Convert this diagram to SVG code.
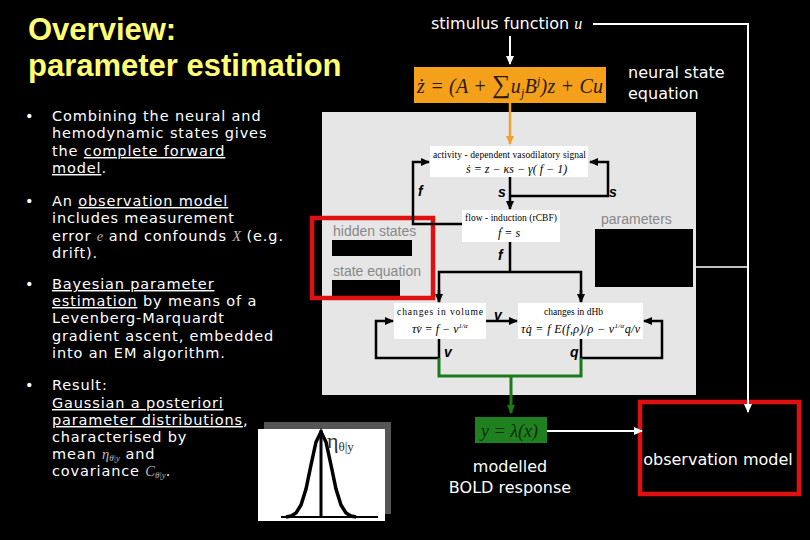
<svg xmlns="http://www.w3.org/2000/svg" width="810" height="540" viewBox="0 0 810 540">
<defs>
<style>
.title{font-family:"Liberation Sans",Arial,sans-serif;font-weight:bold;font-size:31px;fill:#ffff73}
.bul{font-family:"DejaVu Sans",sans-serif;font-size:14.5px;letter-spacing:0.85px;fill:#fff}
.u{text-decoration:underline}
.wt{font-family:"DejaVu Sans",sans-serif;font-size:16px;fill:#fff}
.math{font-family:"Liberation Serif","Times New Roman",serif;font-style:italic;letter-spacing:0}
.gray{font-family:"Liberation Sans",Arial,sans-serif;font-size:14px;fill:#888}
.box{fill:#fff}
.cap{font-family:"Liberation Serif","Times New Roman",serif;font-size:9.5px;fill:#000}
.eq{font-family:"Liberation Serif","Times New Roman",serif;font-style:italic;font-size:12px;fill:#000}
.lbl{font-family:"Liberation Sans",Arial,sans-serif;font-weight:bold;font-style:italic;font-size:14px;fill:#000}
.blk{fill:none;stroke:#000;stroke-width:2.5}
.wht{fill:none;stroke:#fff;stroke-width:2}
.grn{fill:none;stroke:#1a7a1a;stroke-width:3}
.red{fill:none;stroke:#e01010;stroke-width:4.5}
</style>
<marker id="ab" markerWidth="10" markerHeight="10" refX="8" refY="5" orient="auto" markerUnits="userSpaceOnUse"><path d="M0,1 L9,5 L0,9 Z" fill="#000"/></marker>
<marker id="aw" markerWidth="10" markerHeight="10" refX="8" refY="5" orient="auto" markerUnits="userSpaceOnUse"><path d="M0,1 L9,5 L0,9 Z" fill="#fff"/></marker>
<marker id="ao" markerWidth="10" markerHeight="10" refX="8" refY="5" orient="auto" markerUnits="userSpaceOnUse"><path d="M0,1 L9,5 L0,9 Z" fill="#f0a030"/></marker>
<marker id="ag" markerWidth="10" markerHeight="10" refX="8" refY="5" orient="auto" markerUnits="userSpaceOnUse"><path d="M0,1 L9,5 L0,9 Z" fill="#1a7a1a"/></marker>
</defs>
<rect width="810" height="540" fill="#000"/>

<g id="title">
<text class="title" x="28" y="40">Overview:<tspan x="28" y="76">parameter estimation</tspan></text>
</g>

<g id="bullets" class="bul">
<text x="25" y="121">•<tspan x="25" y="206">•</tspan><tspan x="25" y="289">•</tspan><tspan x="25" y="390">•</tspan></text>
<text x="52" y="121">Combining the neural and<tspan x="52" y="138">hemodynamic states gives</tspan><tspan x="52" y="156">the </tspan><tspan class="u">complete forward</tspan><tspan x="52" y="173" class="u">model</tspan><tspan>.</tspan></text>

<text x="52" y="206">An <tspan class="u">observation model</tspan><tspan x="52" y="223">includes measurement</tspan><tspan x="52" y="241">error </tspan><tspan class="math" fill="#bbb">e</tspan><tspan> and confounds </tspan><tspan class="math" fill="#bbb">X</tspan><tspan> (e.g.</tspan><tspan x="52" y="258">drift).</tspan></text>

<text x="52" y="289"><tspan class="u">Bayesian parameter</tspan><tspan x="52" y="306" class="u">estimation</tspan><tspan> by means of a</tspan><tspan x="52" y="323">Levenberg-Marquardt</tspan><tspan x="52" y="341">gradient ascent, embedded</tspan><tspan x="52" y="358">into an EM algorithm.</tspan></text>

<text x="52" y="390">Result:<tspan x="52" y="408" class="u">Gaussian a posteriori</tspan><tspan x="52" y="425" class="u">parameter distributions</tspan><tspan>,</tspan><tspan x="52" y="442">characterised by</tspan><tspan x="52" y="459">mean </tspan><tspan class="math" fill="#bbb">η</tspan><tspan class="math" fill="#bbb" font-size="9" dy="2">θ|y</tspan><tspan dy="-2"> and</tspan><tspan x="52" y="476">covariance </tspan><tspan class="math" fill="#bbb">C</tspan><tspan class="math" fill="#bbb" font-size="9" dy="2">θ|y</tspan><tspan dy="-2">.</tspan></text>
</g>

<g id="stimulus">
<text class="wt" x="431" y="29">stimulus function <tspan class="math">u</tspan></text>
</g>

<g id="neural">
<rect x="414" y="67" width="192" height="36" fill="#f5a01a"/>
<text x="417" y="93" font-family="Liberation Serif,serif" font-style="italic" font-size="20" fill="#2a1a05" textLength="186">ż = (A + <tspan font-style="normal" font-size="26">∑</tspan>u<tspan font-size="12" dy="4">j</tspan><tspan dy="-4">B</tspan><tspan font-size="12" dy="-8">j</tspan><tspan dy="8">)z + Cu</tspan></text>
<text class="wt" x="628" y="78">neural state<tspan x="628" y="99">equation</tspan></text>
</g>

<g id="panel">
<rect x="322" y="112" width="374" height="283" fill="#e6e6e6"/>
</g>

<g id="hidden">
<text class="gray" x="333" y="236">hidden states</text>
<rect x="332" y="240" width="80" height="16" fill="#000"/>
<text class="gray" x="333" y="276">state equation</text>
<rect x="332" y="280" width="68" height="17" fill="#000"/>
<rect class="red" x="312" y="218" width="121" height="80"/>
</g>

<g id="params">
<text class="gray" x="601" y="224">parameters</text>
<rect x="595" y="229" width="98" height="58" fill="#000"/>
</g>

<g id="activity">
<rect class="box" x="430" y="146" width="158" height="31"/>
<text class="cap" x="433" y="158" textLength="153">activity - dependent vasodilatory signal</text>
<text class="eq" x="466" y="173">ṡ = z − κs − γ( f − 1)</text>
</g>

<g id="flow">
<rect class="box" x="462" y="210" width="98" height="32"/>
<text class="cap" x="465" y="221" textLength="92">flow - induction (rCBF)</text>
<text class="eq" x="498" y="237">ḟ = s</text>
</g>

<g id="volume">
<rect class="box" x="394" y="303" width="92" height="36"/>
<text class="cap" x="397" y="315" textLength="86" font-size="10.5">changes in volume</text>
<text class="eq" x="412" y="333">τv̇ = f − v<tspan font-size="7" dy="-5">1/α</tspan></text>
</g>

<g id="dhb">
<rect class="box" x="518" y="303" width="125" height="36"/>
<text class="cap" x="544" y="315" font-size="10.5">changes in dHb</text>
<text class="eq" x="521" y="333" textLength="119">τq̇ = f E(f,ρ)/ρ − v<tspan font-size="7" dy="-5">1/α</tspan><tspan dy="5">q/v</tspan></text>
</g>

<g id="bold">
<rect x="475" y="417" width="72" height="26" fill="#1f801f"/>
<text x="481" y="437" font-family="Liberation Serif,serif" font-style="italic" font-size="18" fill="#0a2a0a">y = λ(x)</text>
<text class="wt" x="510" y="472" text-anchor="middle">modelled<tspan x="510" y="493">BOLD response</tspan></text>
</g>

<g id="observation">
<rect class="red" x="640" y="402" width="159" height="92"/>
<text class="wt" x="718" y="465" text-anchor="middle">observation model</text>
</g>

<g id="posterior">
<rect x="264" y="422" width="127" height="92" fill="#555"/>
<rect x="258" y="429" width="127" height="92" fill="#fff"/>
<line x1="281" y1="517" x2="378" y2="517" stroke="#000" stroke-width="2"/>
<line x1="321" y1="430" x2="321" y2="517" stroke="#000" stroke-width="3"/>
<polyline fill="none" stroke="#000" stroke-width="3.5" points="286,517 291,516 296,513 301,505 306,489 311,465 316,442 321,432 326,442 331,465 336,489 341,505 346,513 351,516 356,517"/>
<text x="327" y="448" font-family="Liberation Serif,serif" font-size="22" fill="#333">η<tspan font-size="13" dy="3">θ|y</tspan></text>
</g>

<g id="connectors">
<line class="wht" x1="510" y1="36" x2="510" y2="64" marker-end="url(#aw)"/>
<polyline class="wht" points="593,24 748,24 748,412" marker-end="url(#aw)"/>
<line x1="696" y1="267" x2="748" y2="267" stroke="#fff" stroke-width="1.5"/>
<line x1="510" y1="103" x2="510" y2="144" stroke="#f0a030" stroke-width="2.5" marker-end="url(#ao)"/>
<line class="blk" x1="510" y1="177" x2="510" y2="209" marker-end="url(#ab)"/>
<polyline class="blk" points="510,196 608,196 608,162 590,162" marker-end="url(#ab)"/>
<polyline class="blk" points="462,224 413,224 413,162 429,162" marker-end="url(#ab)"/>
<line class="blk" x1="510" y1="242" x2="510" y2="272"/>
<polyline class="blk" points="439,302 439,272 581,272 581,302"/>
<line class="blk" x1="439" y1="290" x2="439" y2="302" marker-end="url(#ab)"/>
<line class="blk" x1="581" y1="290" x2="581" y2="302" marker-end="url(#ab)"/>
<line class="blk" x1="486" y1="321" x2="517" y2="321" marker-end="url(#ab)"/>
<polyline class="blk" points="439,339 439,358 376,358 376,321 393,321" marker-end="url(#ab)"/>
<polyline class="blk" points="581,339 581,358 662,358 662,321 644,321" marker-end="url(#ab)"/>
<polyline class="grn" points="439,358 439,376 581,376 581,358"/>
<line class="grn" x1="511" y1="376" x2="511" y2="413" marker-end="url(#ag)"/>
<line class="wht" x1="547" y1="431" x2="642" y2="431" marker-end="url(#aw)"/>
<text class="lbl" x="418" y="196">f</text>
<text class="lbl" x="498" y="197">s</text>
<text class="lbl" x="609" y="197">s</text>
<text class="lbl" x="498" y="260">f</text>
<text class="lbl" x="494" y="320">v</text>
<text class="lbl" x="444" y="357">v</text>
<text class="lbl" x="570" y="357">q</text>
</g>
</svg>
